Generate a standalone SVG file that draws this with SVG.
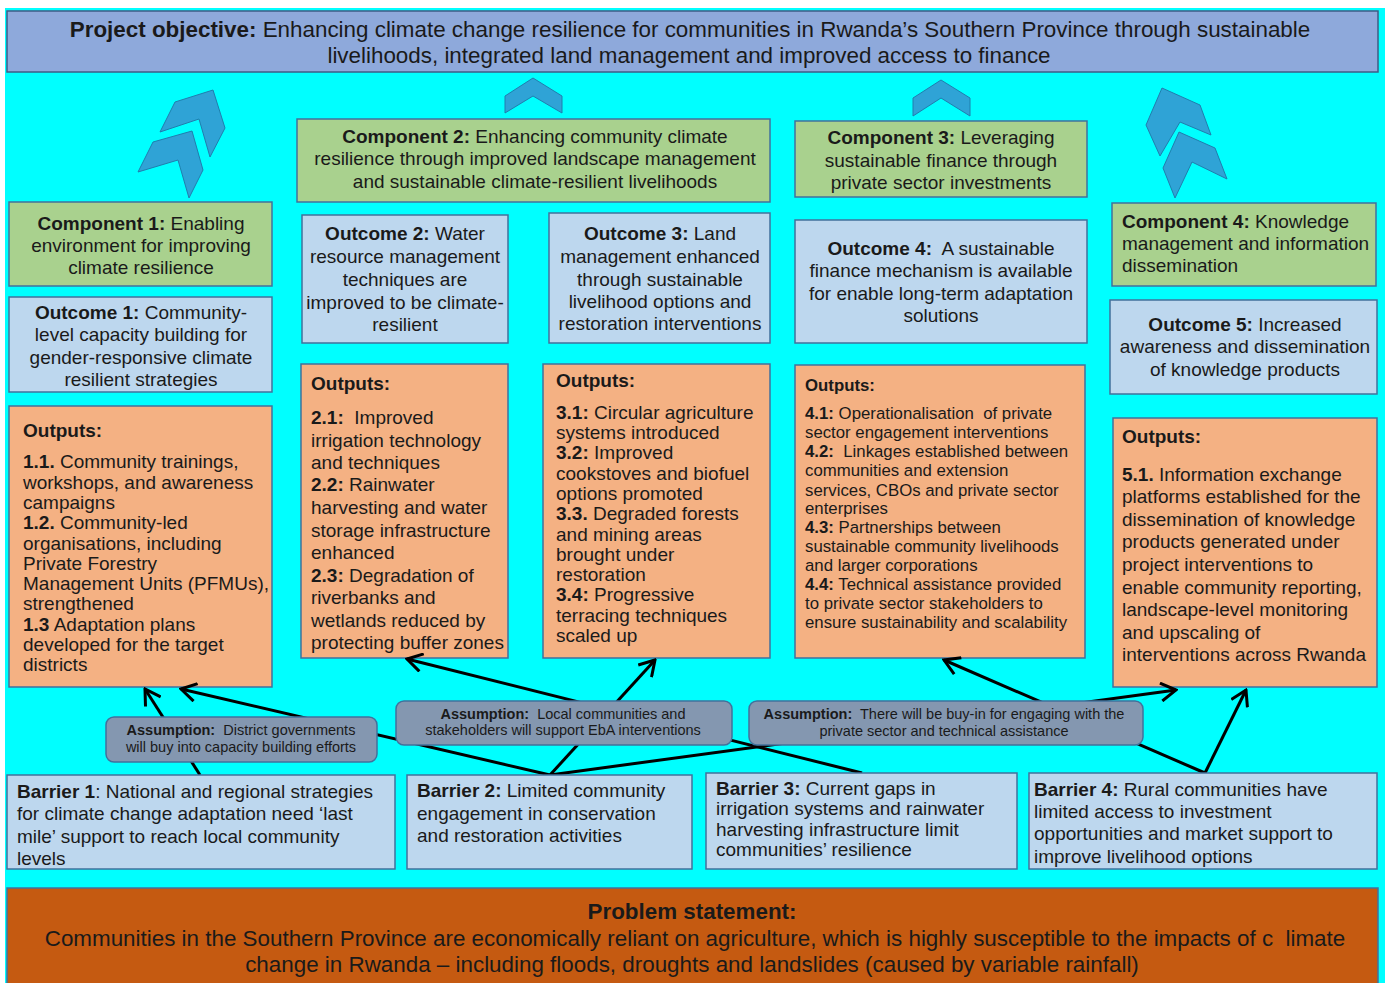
<svg xmlns="http://www.w3.org/2000/svg" width="1387" height="983" viewBox="0 0 1387 983">
<style>
.t{font-family:"Liberation Sans",Arial,sans-serif;font-size:19px;fill:#1a1a1a}
.b{font-weight:bold}
.c{text-anchor:middle}
.s17{font-size:16.8px}
.a{font-size:14.5px}
.big{font-size:22.4px}
.obj{fill:#8EA9DB;stroke:#3E5C86;stroke-width:1.5}
.comp{fill:#A9D18E;stroke:#41719C;stroke-width:1.5}
.outc{fill:#BDD7EE;stroke:#41719C;stroke-width:1.5}
.outp{fill:#F4B183;stroke:#41719C;stroke-width:1.5}
.bar{fill:#BDD7EE;stroke:#41719C;stroke-width:1.5}
.asm{fill:#8497B0;stroke:#41719C;stroke-width:1.5}
.prob{fill:#C55A11;stroke:#41719C;stroke-width:1.5}
.chev{fill:#2FA3D6;stroke:#1F7EAE;stroke-width:1}
.ln{stroke:#000;stroke-width:3;fill:none;marker-end:url(#ah)}
</style>
<defs>
<marker id="ah" viewBox="0 0 20 20" refX="18" refY="10" markerWidth="20" markerHeight="20" markerUnits="userSpaceOnUse" orient="auto">
<path d="M3,1 L18,10 L3,19" fill="none" stroke="#000" stroke-width="3"/>
</marker>
</defs>
<rect x="5" y="8" width="1380" height="975" fill="#00FFFF"/>

<g id="objective">
<rect class="obj" x="7" y="11" width="1371" height="61"/>
<text class="t big c" x="690" y="37"><tspan class="b">Project objective:</tspan> Enhancing climate change resilience for communities in Rwanda’s Southern Province through sustainable</text>
<text class="t big c" x="689" y="63">livelihoods, integrated land management and improved access to finance</text>
</g>

<g id="chevrons">
<polygon class="chev" points="175,102 213,90 225,128 210,157 199,119 160,132"/>
<polygon class="chev" points="153,142 192,131 203,170 189,198 178,160 138,172"/>
<polygon class="chev" points="505,96 533,78 562,96 562,113 533,96 505,113"/>
<polygon class="chev" points="913,98 941,80 970,98 970,116 941,98 913,116"/>
<polygon class="chev" points="1162,88 1200,105 1211,135 1180,122 1160,156 1146,125"/>
<polygon class="chev" points="1179,132 1215,148 1227,179 1192,162 1175,198 1163,168"/>
</g>

<g id="component1">
<rect class="comp" x="9" y="202" width="263" height="84"/>
<text class="t c" x="141" y="230"><tspan class="b">Component 1:</tspan> Enabling</text>
<text class="t c" x="141" y="252">environment for improving</text>
<text class="t c" x="141" y="274">climate resilience</text>
</g>
<g id="outcome1">
<rect class="outc" x="9" y="297" width="263" height="95"/>
<text class="t c" x="141" y="319"><tspan class="b">Outcome 1:</tspan> Community-</text>
<text class="t c" x="141" y="341">level capacity building for</text>
<text class="t c" x="141" y="364">gender-responsive climate</text>
<text class="t c" x="141" y="386">resilient strategies</text>
</g>
<g id="outputs1">
<rect class="outp" x="9" y="406" width="263" height="281"/>
<text class="t b" x="23" y="437">Outputs:</text>
<text class="t" x="23" y="468"><tspan class="b">1.1.</tspan> Community trainings,</text>
<text class="t" x="23" y="489">workshops, and awareness</text>
<text class="t" x="23" y="509">campaigns</text>
<text class="t" x="23" y="529"><tspan class="b">1.2.</tspan> Community-led</text>
<text class="t" x="23" y="550">organisations, including</text>
<text class="t" x="23" y="570">Private Forestry</text>
<text class="t" x="23" y="590">Management Units (PFMUs),</text>
<text class="t" x="23" y="610">strengthened</text>
<text class="t" x="23" y="631"><tspan class="b">1.3</tspan> Adaptation plans</text>
<text class="t" x="23" y="651">developed for the target</text>
<text class="t" x="23" y="671">districts</text>
</g>

<g id="component2">
<rect class="comp" x="297" y="119" width="473" height="83"/>
<text class="t c" x="535" y="143"><tspan class="b">Component 2:</tspan> Enhancing community climate</text>
<text class="t c" x="535" y="165">resilience through improved landscape management</text>
<text class="t c" x="535" y="188">and sustainable climate-resilient livelihoods</text>
</g>
<g id="outcome2">
<rect class="outc" x="302" y="215" width="206" height="128"/>
<text class="t c" x="405" y="240"><tspan class="b">Outcome 2:</tspan> Water</text>
<text class="t c" x="405" y="263">resource management</text>
<text class="t c" x="405" y="286">techniques are</text>
<text class="t c" x="405" y="309">improved to be climate-</text>
<text class="t c" x="405" y="331">resilient</text>
</g>
<g id="outcome3">
<rect class="outc" x="549" y="213" width="221" height="130"/>
<text class="t c" x="660" y="240"><tspan class="b">Outcome 3:</tspan> Land</text>
<text class="t c" x="660" y="263">management enhanced</text>
<text class="t c" x="660" y="286">through sustainable</text>
<text class="t c" x="660" y="308">livelihood options and</text>
<text class="t c" x="660" y="330">restoration interventions</text>
</g>
<g id="outputs2">
<rect class="outp" x="301" y="364" width="207" height="294"/>
<text class="t b" x="311" y="390">Outputs:</text>
<text class="t" x="311" y="424" xml:space="preserve"><tspan class="b">2.1:</tspan>  Improved</text>
<text class="t" x="311" y="447">irrigation technology</text>
<text class="t" x="311" y="469">and techniques</text>
<text class="t" x="311" y="491"><tspan class="b">2.2:</tspan> Rainwater</text>
<text class="t" x="311" y="514">harvesting and water</text>
<text class="t" x="311" y="537">storage infrastructure</text>
<text class="t" x="311" y="559">enhanced</text>
<text class="t" x="311" y="582"><tspan class="b">2.3:</tspan> Degradation of</text>
<text class="t" x="311" y="604">riverbanks and</text>
<text class="t" x="311" y="627">wetlands reduced by</text>
<text class="t" x="311" y="649">protecting buffer zones</text>
</g>
<g id="outputs3">
<rect class="outp" x="543" y="364" width="227" height="294"/>
<text class="t b" x="556" y="387">Outputs:</text>
<text class="t" x="556" y="419"><tspan class="b">3.1:</tspan> Circular agriculture</text>
<text class="t" x="556" y="439">systems introduced</text>
<text class="t" x="556" y="459"><tspan class="b">3.2:</tspan> Improved</text>
<text class="t" x="556" y="480">cookstoves and biofuel</text>
<text class="t" x="556" y="500">options promoted</text>
<text class="t" x="556" y="520"><tspan class="b">3.3.</tspan> Degraded forests</text>
<text class="t" x="556" y="541">and mining areas</text>
<text class="t" x="556" y="561">brought under</text>
<text class="t" x="556" y="581">restoration</text>
<text class="t" x="556" y="601"><tspan class="b">3.4:</tspan> Progressive</text>
<text class="t" x="556" y="622">terracing techniques</text>
<text class="t" x="556" y="642">scaled up</text>
</g>

<g id="component3">
<rect class="comp" x="795" y="121" width="292" height="76"/>
<text class="t c" x="941" y="144"><tspan class="b">Component 3:</tspan> Leveraging</text>
<text class="t c" x="941" y="167">sustainable finance through</text>
<text class="t c" x="941" y="189">private sector investments</text>
</g>
<g id="outcome4">
<rect class="outc" x="795" y="220" width="292" height="123"/>
<text class="t c" x="941" y="255" xml:space="preserve"><tspan class="b">Outcome 4:</tspan>  A sustainable</text>
<text class="t c" x="941" y="277">finance mechanism is available</text>
<text class="t c" x="941" y="300">for enable long-term adaptation</text>
<text class="t c" x="941" y="322">solutions</text>
</g>
<g id="outputs4">
<rect class="outp" x="795" y="365" width="290" height="293"/>
<text class="t s17 b" x="805" y="391">Outputs:</text>
<text class="t s17" x="805" y="419" xml:space="preserve"><tspan class="b">4.1:</tspan> Operationalisation  of private</text>
<text class="t s17" x="805" y="438">sector engagement interventions</text>
<text class="t s17" x="805" y="457" xml:space="preserve"><tspan class="b">4.2:</tspan>  Linkages established between</text>
<text class="t s17" x="805" y="476">communities and extension</text>
<text class="t s17" x="805" y="496">services, CBOs and private sector</text>
<text class="t s17" x="805" y="514">enterprises</text>
<text class="t s17" x="805" y="533"><tspan class="b">4.3:</tspan> Partnerships between</text>
<text class="t s17" x="805" y="552">sustainable community livelihoods</text>
<text class="t s17" x="805" y="571">and larger corporations</text>
<text class="t s17" x="805" y="590"><tspan class="b">4.4:</tspan> Technical assistance provided</text>
<text class="t s17" x="805" y="609">to private sector stakeholders to</text>
<text class="t s17" x="805" y="628">ensure sustainability and scalability</text>
</g>

<g id="component4">
<rect class="comp" x="1112" y="203" width="264" height="83"/>
<text class="t" x="1122" y="228"><tspan class="b">Component 4:</tspan> Knowledge</text>
<text class="t" x="1122" y="250">management and information</text>
<text class="t" x="1122" y="272">dissemination</text>
</g>
<g id="outcome5">
<rect class="outc" x="1110" y="300" width="267" height="94"/>
<text class="t c" x="1245" y="331"><tspan class="b">Outcome 5:</tspan> Increased</text>
<text class="t c" x="1245" y="353">awareness and dissemination</text>
<text class="t c" x="1245" y="376">of knowledge products</text>
</g>
<g id="outputs5">
<rect class="outp" x="1113" y="418" width="264" height="269"/>
<text class="t b" x="1122" y="443">Outputs:</text>
<text class="t" x="1122" y="481"><tspan class="b">5.1.</tspan> Information exchange</text>
<text class="t" x="1122" y="503">platforms established for the</text>
<text class="t" x="1122" y="526">dissemination of knowledge</text>
<text class="t" x="1122" y="548">products generated under</text>
<text class="t" x="1122" y="571">project interventions to</text>
<text class="t" x="1122" y="594">enable community reporting,</text>
<text class="t" x="1122" y="616">landscape-level monitoring</text>
<text class="t" x="1122" y="639">and upscaling of</text>
<text class="t" x="1122" y="661">interventions across Rwanda</text>
</g>

<g id="connectors">
<line class="ln" x1="200" y1="775" x2="145" y2="689"/>
<line class="ln" x1="550" y1="775" x2="181" y2="689"/>
<line class="ln" x1="862" y1="773" x2="407" y2="659"/>
<line class="ln" x1="550" y1="775" x2="655" y2="660"/>
<line class="ln" x1="550" y1="775" x2="1176" y2="690"/>
<line class="ln" x1="1205" y1="773" x2="944" y2="660"/>
<line class="ln" x1="1205" y1="773" x2="1246" y2="690"/>
</g>

<g id="assumption1">
<rect class="asm" x="106" y="717" width="271" height="45" rx="8"/>
<text class="t a c" x="241" y="735" xml:space="preserve"><tspan class="b">Assumption:</tspan>  District governments</text>
<text class="t a c" x="241" y="752">will buy into capacity building efforts</text>
</g>
<g id="assumption2">
<rect class="asm" x="396" y="701" width="336" height="44" rx="8"/>
<text class="t a c" x="563" y="719" xml:space="preserve"><tspan class="b">Assumption:</tspan>  Local communities and</text>
<text class="t a c" x="563" y="735">stakeholders will support EbA interventions</text>
</g>
<g id="assumption3">
<rect class="asm" x="749" y="701" width="394" height="44" rx="8"/>
<text class="t a c" x="944" y="719" xml:space="preserve"><tspan class="b">Assumption:</tspan>  There will be buy-in for engaging with the</text>
<text class="t a c" x="944" y="736">private sector and technical assistance</text>
</g>

<g id="barrier1">
<rect class="bar" x="7" y="775" width="388" height="94"/>
<text class="t" x="17" y="798"><tspan class="b">Barrier 1</tspan>: National and regional strategies</text>
<text class="t" x="17" y="820">for climate change adaptation need ‘last</text>
<text class="t" x="17" y="843">mile’ support to reach local community</text>
<text class="t" x="17" y="865">levels</text>
</g>
<g id="barrier2">
<rect class="bar" x="407" y="775" width="285" height="94"/>
<text class="t" x="417" y="797"><tspan class="b">Barrier 2:</tspan> Limited community</text>
<text class="t" x="417" y="820">engagement in conservation</text>
<text class="t" x="417" y="842">and restoration activities</text>
</g>
<g id="barrier3">
<rect class="bar" x="706" y="773" width="311" height="96"/>
<text class="t" x="716" y="795"><tspan class="b">Barrier 3:</tspan> Current gaps in</text>
<text class="t" x="716" y="815">irrigation systems and rainwater</text>
<text class="t" x="716" y="836">harvesting infrastructure limit</text>
<text class="t" x="716" y="856">communities’ resilience</text>
</g>
<g id="barrier4">
<rect class="bar" x="1029" y="773" width="348" height="96"/>
<text class="t" x="1034" y="796"><tspan class="b">Barrier 4:</tspan> Rural communities have</text>
<text class="t" x="1034" y="818">limited access to investment</text>
<text class="t" x="1034" y="840">opportunities and market support to</text>
<text class="t" x="1034" y="863">improve livelihood options</text>
</g>

<g id="problem">
<rect class="prob" x="7" y="888" width="1371" height="100"/>
<text class="t big b c" x="692" y="919">Problem statement:</text>
<text class="t big c" x="695" y="946" xml:space="preserve">Communities in the Southern Province are economically reliant on agriculture, which is highly susceptible to the impacts of c  limate</text>
<text class="t big c" x="692" y="972">change in Rwanda – including floods, droughts and landslides (caused by variable rainfall)</text>
</g>
</svg>
